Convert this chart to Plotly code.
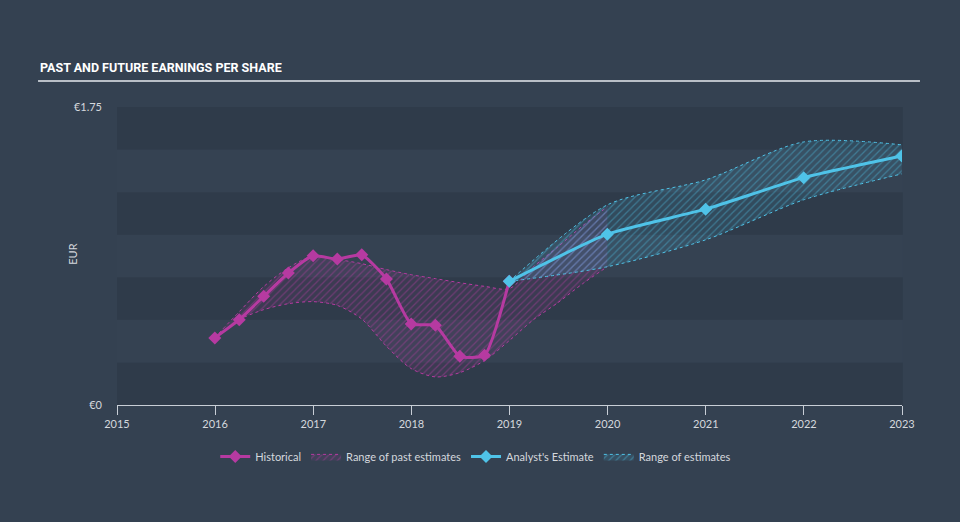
import plotly.graph_objects as go

# ---- data ----
hist_dates = ["2015-12-31", "2016-03-31", "2016-06-30", "2016-09-30", "2016-12-31",
              "2017-03-31", "2017-06-30", "2017-09-30", "2017-12-31", "2018-03-31",
              "2018-06-30", "2018-09-30", "2018-12-31"]
hist_eps = [0.394, 0.501, 0.638, 0.775, 0.876, 0.857, 0.882, 0.740, 0.476, 0.468,
            0.286, 0.292, 0.726]

past_dates = ["2015-12-31", "2016-03-31", "2016-06-30", "2016-09-30", "2016-12-31",
              "2017-03-31", "2017-06-30", "2017-09-30", "2017-12-31", "2018-03-31",
              "2018-06-30", "2018-09-30", "2018-12-31", "2019-03-31", "2019-06-30",
              "2019-09-30", "2019-12-31"]
past_high = [0.396, 0.548, 0.695, 0.806, 0.875, 0.855, 0.830, 0.795, 0.765, 0.742,
             0.718, 0.697, 0.683, 0.812, 0.929, 1.052, 1.164]
past_low = [0.396, 0.501, 0.560, 0.595, 0.607, 0.585, 0.505, 0.345, 0.214, 0.165,
            0.190, 0.261, 0.378, 0.501, 0.601, 0.712, 0.812]

est_dates = ["2018-12-31", "2019-12-31", "2020-12-31", "2021-12-31", "2022-12-31"]
est_eps = [0.726, 1.003, 1.150, 1.335, 1.462]
est_high = [0.726, 1.175, 1.322, 1.545, 1.528]
est_low = [0.726, 0.812, 0.970, 1.205, 1.357]

y_ticks = [0, 1.75]
y_tick_labels = ["€0", "€1.75"]
x_ticks = ["2015-01-01", "2016-01-01", "2017-01-01", "2018-01-01", "2019-01-01",
           "2020-01-01", "2021-01-01", "2022-01-01", "2023-01-01"]
x_tick_labels = ["2015", "2016", "2017", "2018", "2019", "2020", "2021", "2022", "2023"]

# ---- style ----
MAG = "#b63aa1"
CYAN = "#4fc3e8"
BG = "#344151"
DARK_BAND = "#2f3b4a"
LIGHT_BAND = "#354252"
TXT = "#d4d8dd"
FONT = "Lato, 'Open Sans', sans-serif"

fig = go.Figure()

# Range of past estimates
fig.add_trace(go.Scatter(x=past_dates, y=past_low, mode="lines",
                         line=dict(color=MAG, width=1, dash="dot", shape="spline", smoothing=0.8),
                         showlegend=False, hoverinfo="skip", legendrank=2))
fig.add_trace(go.Scatter(x=past_dates, y=past_high, mode="lines", name="Range of past estimates",
                         line=dict(color=MAG, width=1, dash="dot", shape="spline", smoothing=0.8),
                         fill="tonexty", fillcolor="rgba(182,58,161,0.12)",
                         fillpattern=dict(shape="/", fgcolor="rgba(182,58,161,0.8)",
                                          bgcolor="rgba(182,58,161,0.10)", size=5, solidity=0.25),
                         legendrank=2))

# Range of estimates
fig.add_trace(go.Scatter(x=est_dates, y=est_low, mode="lines",
                         line=dict(color=CYAN, width=1, dash="dot", shape="spline", smoothing=0.8),
                         showlegend=False, hoverinfo="skip", legendrank=4))
fig.add_trace(go.Scatter(x=est_dates, y=est_high, mode="lines", name="Range of estimates",
                         line=dict(color=CYAN, width=1, dash="dot", shape="spline", smoothing=0.8),
                         fill="tonexty", fillcolor="rgba(79,195,232,0.12)",
                         fillpattern=dict(shape="/", fgcolor="rgba(79,195,232,0.75)",
                                          bgcolor="rgba(79,195,232,0.12)", size=5, solidity=0.25),
                         legendrank=4))

# Historical
fig.add_trace(go.Scatter(x=hist_dates, y=hist_eps, mode="lines+markers", name="Historical",
                         line=dict(color=MAG, width=3, shape="spline", smoothing=0.5),
                         marker=dict(symbol="diamond", size=10, color=MAG), legendrank=1))

# Analyst estimate
fig.add_trace(go.Scatter(x=est_dates, y=est_eps, mode="lines+markers", name="Analyst's Estimate",
                         line=dict(color=CYAN, width=3, shape="spline", smoothing=0.5),
                         marker=dict(symbol="diamond", size=10, color=CYAN), legendrank=3))

# horizontal bands
shapes = []
for i in range(7):
    y0 = i * 0.25
    shapes.append(dict(type="rect", xref="paper", yref="y", x0=0, x1=1.001, y0=y0, y1=y0 + 0.25,
                       fillcolor=DARK_BAND if i % 2 == 0 else LIGHT_BAND, line=dict(width=0),
                       layer="below"))
# title underline
shapes.append(dict(type="line", xref="paper", yref="paper", x0=-0.1006, x1=1.0229,
                   y0=1.087, y1=1.087, line=dict(color="#b9bfc7", width=2)))

fig.update_layout(
    width=960, height=522,
    margin=dict(l=117, r=58, t=107, b=116.5),
    paper_bgcolor=BG, plot_bgcolor=BG,
    font=dict(family=FONT, color=TXT, size=11),
    shapes=shapes,
    showlegend=True,
    legend=dict(orientation="h", x=0.457, y=-0.1725, xanchor="center", yanchor="middle",
                font=dict(size=11, color=TXT), bgcolor="rgba(0,0,0,0)",
                itemwidth=30, traceorder="normal"),
    annotations=[
        dict(text="<b>PAST AND FUTURE EARNINGS PER SHARE</b>", xref="paper", yref="paper",
             x=-0.1006, y=1.134, xanchor="left", yanchor="middle", showarrow=False,
             font=dict(family="Roboto, sans-serif", size=12.5, color="#ffffff")),
        dict(text="EUR", xref="paper", yref="paper", x=(73 - 117) / 785, y=(405.5 - 255) / 298.5,
             xanchor="center", yanchor="middle", textangle=-90, showarrow=False,
             font=dict(size=11, color=TXT)),
    ],
)

fig.update_xaxes(type="date", range=["2015-01-01", "2023-01-01"],
                 tickvals=x_ticks, ticktext=x_tick_labels,
                 showgrid=False, zeroline=False, showline=True, linecolor="#c8ced6", linewidth=1,
                 ticks="outside", ticklen=9, tickcolor="#c8ced6", tickwidth=1,
                 tickfont=dict(size=11, color=TXT), fixedrange=True)
fig.update_yaxes(range=[0, 1.75], tickvals=y_ticks, ticktext=y_tick_labels,
                 showgrid=False, zeroline=False, showline=False, ticks="",
                 ticklabelstandoff=14, tickfont=dict(size=11, color=TXT), fixedrange=True)

fig.write_html("out.html")
